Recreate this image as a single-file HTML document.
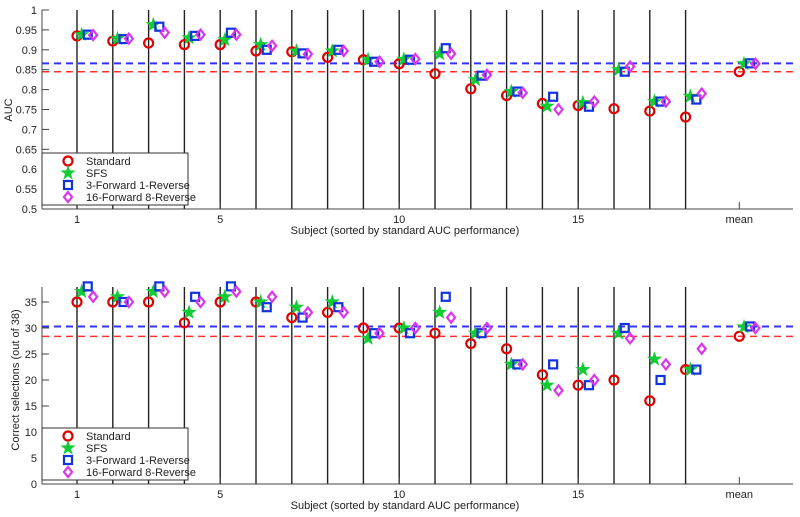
<!DOCTYPE html>
<html><head><meta charset="utf-8"><style>
body{margin:0;background:#fff;}
svg{display:block;font-family:"Liberation Sans",sans-serif;}
</style></head><body>
<svg id="chart" width="800" height="517" xmlns="http://www.w3.org/2000/svg"></svg>
<script>
// ---- data ----
const subjects = [1,2,3,4,5,6,7,8,9,10,11,12,13,14,15,16,17,18];
const xTickLabels = ["1","5","10","15","mean"];
const xTickPos = [1,5,10,15,19.5];
const seriesNames = ["Standard","SFS","3-Forward 1-Reverse","16-Forward 8-Reverse"];

const aucStandard = [0.935,0.922,0.917,0.913,0.913,0.897,0.895,0.881,0.875,0.865,0.840,0.802,0.785,0.765,0.760,0.752,0.746,0.731];
const aucSFS      = [0.938,0.928,0.963,0.930,0.925,0.913,0.897,0.897,0.875,0.876,0.890,0.825,0.795,0.758,0.767,0.850,0.770,0.783];
const auc3F       = [0.938,0.927,0.958,0.935,0.943,0.900,0.891,0.900,0.870,0.875,0.904,0.835,0.795,0.782,0.757,0.845,0.770,0.775];
const auc16F      = [0.937,0.928,0.943,0.938,0.938,0.910,0.889,0.897,0.870,0.877,0.890,0.837,0.792,0.750,0.770,0.858,0.770,0.790];
const aucMeans    = [0.845,0.865,0.866,0.865];
const aucTicks    = [0.5,0.55,0.6,0.65,0.7,0.75,0.8,0.85,0.9,0.95,1];

const corStandard = [35,35,35,31,35,35,32,33,30,30,29,27,26,21,19,20,16,22];
const corSFS      = [37,36,37,33,36,35,34,35,28,30,33,29,23,19,22,29,24,22];
const cor3F       = [38,35,38,36,38,34,32,34,29,29,36,29,23,23,19,30,20,22];
const cor16F      = [36,35,37,35,37,36,33,33,29,30,32,30,23,18,20,28,23,26];
const corMeans    = [28.4,30.2,30.3,30.0];
const corTicks    = [0,5,10,15,20,25,30,35];

const NS = "http://www.w3.org/2000/svg";
const svg = document.getElementById("chart");
function mk(tag, attrs, parent){
  const e = document.createElementNS(NS, tag);
  for (const k in attrs) e.setAttribute(k, attrs[k]);
  (parent||svg).appendChild(e);
  return e;
}
const xScale = v => 77 + (v-1)*35.8;
const offsets = [0,0.13,0.3,0.45];
const colors = ["#e00000","#11cc33","#1133dd","#dd33ee"];

function marker(kind, cx, cy, g){
  let e;
  if (kind===0) e = mk("circle",{cx:cx,cy:cy,r:4.5,fill:"none",stroke:colors[0],"stroke-width":2.2},g);
  else if (kind===1){
    let p=[];
    for(let i=0;i<10;i++){const a=-Math.PI/2+i*Math.PI/5;const r=i%2?3.2:8;p.push((cx+r*Math.cos(a)).toFixed(1)+","+(cy+r*Math.sin(a)).toFixed(1));}
    e = mk("polygon",{points:p.join(" "),fill:colors[1]},g);
  } else if (kind===2) e = mk("rect",{x:cx-4,y:cy-4,width:8,height:8,fill:"none",stroke:colors[2],"stroke-width":2.2},g);
  else e = mk("polygon",{points:`${cx},${cy-5} ${cx+4},${cy} ${cx},${cy+5} ${cx-4},${cy}`,fill:"none",stroke:colors[3],"stroke-width":2.2},g);
  return e;
}

function panel(opts){
  const g = mk("g",{});
  
  
  const y = v => opts.y0 - (v-opts.vmin)*opts.k;
  // vertical subject lines
  subjects.forEach(s=>{
    const l = mk("line",{x1:xScale(s),x2:xScale(s),y1:opts.top,y2:opts.y0,stroke:"#222","stroke-width":1.4},g);
    
    
  });
  // mean dashed lines
  [[opts.means[0],"#ff3333"],[opts.means[2],"#3333ff"]].forEach(([v,c],i)=>{
    const l = mk("line",{x1:42,x2:793,y1:y(v),y2:y(v),stroke:c,"stroke-width":i?2:1.5,"stroke-dasharray":"7,5"},g);
    
    
  });
  // axes
  const ax = mk("line",{x1:42,x2:42,y1:opts.top,y2:opts.y0,stroke:"#444","stroke-width":1},g);
  
  
  const bx = mk("line",{x1:42,x2:793,y1:opts.y0,y2:opts.y0,stroke:"#444","stroke-width":1},g);
  
  
  opts.ticks.forEach(v=>{
    mk("line",{x1:42,x2:49,y1:y(v),y2:y(v),stroke:"#444"},g);
    const t = mk("text",{x:37,y:y(v)+4,"text-anchor":"end","font-size":11,fill:"#222"},g);
    t.textContent = opts.fmt(v);
    
    
  });
  xTickPos.forEach((p,i)=>{
    mk("line",{x1:xScale(p),x2:xScale(p),y1:opts.y0,y2:opts.y0-7,stroke:"#444"},g);
    const t = mk("text",{x:xScale(p),y:opts.y0+14,"text-anchor":"middle","font-size":11,fill:"#222"},g);
    t.textContent = xTickLabels[i];
    
    
  });
  const xl = mk("text",{x:405,y:opts.y0+25,"text-anchor":"middle","font-size":11,fill:"#222"},g);
  xl.textContent = "Subject (sorted by standard AUC performance)";
  
  
  const yl = mk("text",{x:0,y:0,"text-anchor":"middle","font-size":11,fill:"#222",transform:`translate(${opts.ylx},${opts.yly}) rotate(-90)`},g);
  yl.textContent = opts.ylabel;
  
  
  // markers
  opts.series.forEach((arr,si)=>{
    arr.forEach((v,i)=>{
      const m = marker(si, xScale(subjects[i]+offsets[si]), y(v), g);
      
      
    });
    const m = marker(si, xScale(19.5+offsets[si]), y(opts.means[si]), g);
    
    
  });
  // legend
  const lg = mk("g",{},g);
  
  
  mk("rect",{x:42,y:opts.legY,width:146,height:52,fill:"#fff",stroke:"#333","stroke-width":1},lg);
  seriesNames.forEach((n,i)=>{
    const cy = opts.legY+8+i*12;
    marker(i, 68, cy, lg);
    const t = mk("text",{x:86,y:cy+4,"font-size":11,fill:"#222"},lg);
    t.textContent = n;
    
    
  });
}

panel({name:"auc-panel",top:10,y0:209,vmin:0.5,k:199/0.5,ticks:aucTicks,fmt:v=>String(+v.toFixed(2)),
  means:aucMeans,series:[aucStandard,aucSFS,auc3F,auc16F],ylabel:"AUC",ylx:12,yly:110,legY:153});
panel({name:"correct-panel",top:287,y0:484,vmin:0,k:182/35,ticks:corTicks,fmt:v=>String(v),
  means:corMeans,series:[corStandard,corSFS,cor3F,cor16F],ylabel:"Correct selections (out of 38)",ylx:19,yly:380,legY:428});
</script>
</body></html>
